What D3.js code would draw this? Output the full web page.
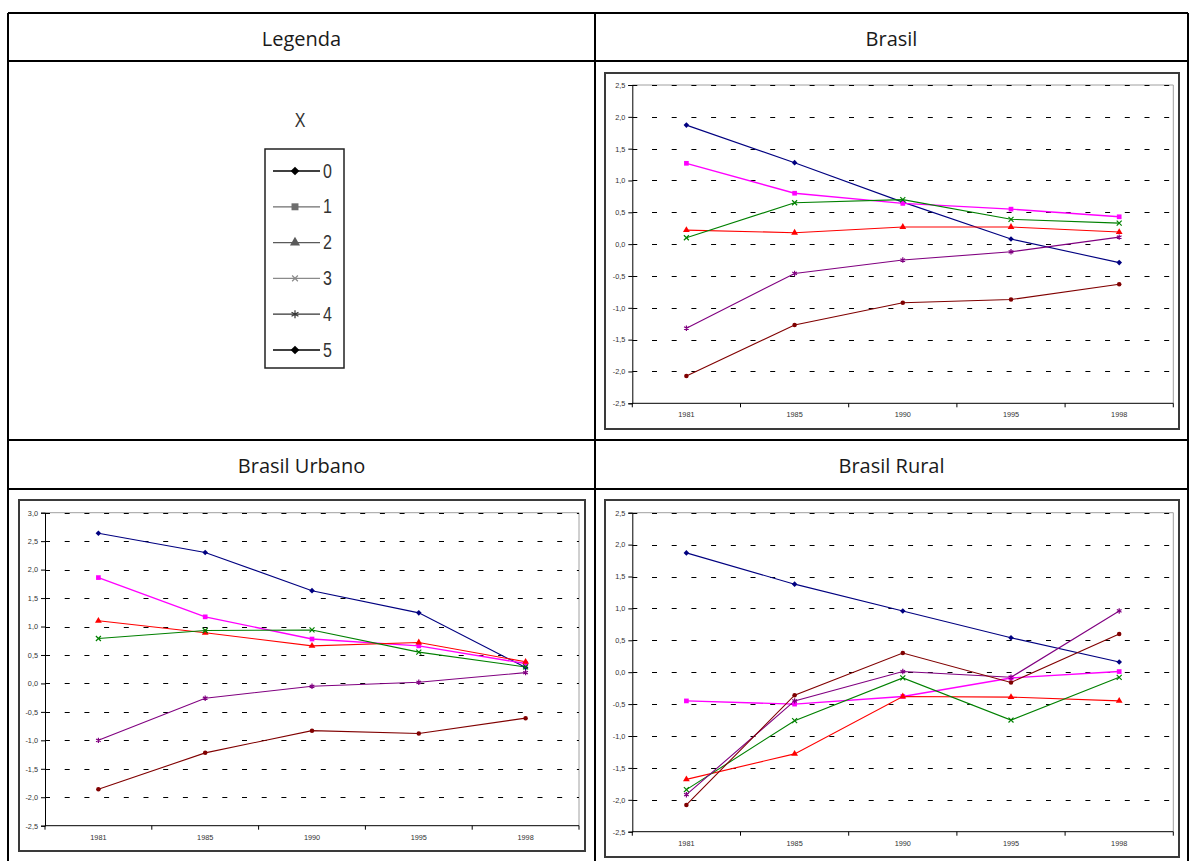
<!DOCTYPE html>
<html><head><meta charset="utf-8">
<script src="https://cdn.jsdelivr.net/npm/d3@7"></script>
<style>body{margin:0;background:#fff}svg{display:block}</style>
</head><body><svg id="c" width="1189" height="861"></svg>
<script>
// Categories and groups
const years = ["1981", "1985", "1990", "1995", "1998"];
const groups = ["0", "1", "2", "3", "4", "5"];

// Series values per panel, one row per group 0..5
const brasil = [
  [1.87, 1.28, 0.66, 0.08, -0.29],
  [1.27, 0.80, 0.64, 0.55, 0.43],
  [0.22, 0.18, 0.27, 0.27, 0.19],
  [0.10, 0.65, 0.70, 0.39, 0.33],
  [-1.32, -0.46, -0.25, -0.12, 0.11],
  [-2.07, -1.27, -0.92, -0.87, -0.63]
];
const urbano = [
  [2.64, 2.30, 1.63, 1.24, 0.28],
  [1.86, 1.17, 0.78, 0.66, 0.35],
  [1.10, 0.89, 0.66, 0.72, 0.38],
  [0.79, 0.93, 0.94, 0.55, 0.29],
  [-1.00, -0.26, -0.05, 0.02, 0.19],
  [-1.86, -1.22, -0.83, -0.88, -0.61]
];
const rural = [
  [1.87, 1.38, 0.96, 0.54, 0.16],
  [-0.45, -0.50, -0.38, -0.09, 0.01],
  [-1.68, -1.28, -0.38, -0.39, -0.45],
  [-1.84, -0.76, -0.09, -0.75, -0.08],
  [-1.92, -0.45, 0.01, -0.08, 0.96],
  [-2.08, -0.36, 0.30, -0.16, 0.60]
];

// Tick labels
const ticksStd = [-2.5, -2.0, -1.5, -1.0, -0.5, 0.0, 0.5, 1.0, 1.5, 2.0, 2.5];
const ticksUrb = [-2.5, -2.0, -1.5, -1.0, -0.5, 0.0, 0.5, 1.0, 1.5, 2.0, 2.5, 3.0];

// Headers
const headers = ["Legenda", "Brasil", "Brasil Urbano", "Brasil Rural"];
const legendTitle = "X";

// Styles per group
const lineColors = ["#000080", "#FF00FF", "#FF0000", "#008000", "#800080", "#800000"];
const legendColors = ["#000000", "#6e6e6e", "#5a5a5a", "#8a8a8a", "#333333", "#000000"];

const svg = d3.select("#c");
svg.append("rect").attr("width", 1189).attr("height", 861).attr("fill", "#fff");

const fmt = v => v.toFixed(1).replace(".", ",");

// Marker shapes
const symDiamond = d3.symbolDiamond2 || d3.symbolDiamond;
const symX = d3.symbolTimes || d3.symbolX || d3.symbolCross;
const symAst = d3.symbolAsterisk || d3.symbolCross;
const markers = [
  {type: symDiamond, size: 20, stroke: false},
  {type: d3.symbolSquare, size: 22, stroke: false},
  {type: d3.symbolTriangle, size: 20, stroke: false},
  {type: symX, size: 18, stroke: true},
  {type: symAst, size: 20, stroke: true},
  {type: d3.symbolCircle, size: 16, stroke: false}
];

function drawMarker(g, i, x, y, color, scale, typeOverride) {
  const m = markers[i];
  const p = d3.symbol().type(typeOverride || m.type).size(m.size * (scale || 1))();
  const el = g.append("path").attr("d", p).attr("transform", `translate(${x},${y})`);
  if (m.stroke) el.attr("fill", "none").attr("stroke", color).attr("stroke-width", 1.2);
  else el.attr("fill", color).attr("stroke", "none");
}

// Excel-style line chart panel
function panel(box, plot, domain, ticks, data) {
  const g = svg.append("g");
  g.append("rect")
    .attr("x", box.x0).attr("y", box.y0)
    .attr("width", box.x1 - box.x0).attr("height", box.y1 - box.y0)
    .attr("fill", "#fff").attr("stroke", "#3a3a3a").attr("stroke-width", 2);

  const x = d3.scaleBand().domain(years).range([plot.x0, plot.x1]).padding(0);
  const y = d3.scaleLinear().domain(domain).range([plot.y1, plot.y0]);
  const cx = d => x(d) + x.bandwidth() / 2;

  // plot area frame (top/right light)
  g.append("path")
    .attr("d", `M${plot.x0},${plot.y0}H${plot.x1}V${plot.y1}`)
    .attr("fill", "none").attr("stroke", "#a0a0a0").attr("stroke-width", 1);

  // dashed gridlines
  g.append("g").selectAll("line").data(ticks.filter(t => t !== domain[0]))
    .join("line")
    .attr("x1", plot.x0).attr("x2", plot.x1)
    .attr("y1", d => Math.round(y(d)) + 0.5).attr("y2", d => Math.round(y(d)) + 0.5)
    .attr("stroke", "#000").attr("stroke-width", 1)
    .attr("stroke-dasharray", "5,14.7");

  // y axis
  const ya = d3.axisLeft(y).tickValues(ticks).tickSize(4).tickFormat(fmt);
  const yg = g.append("g").attr("transform", `translate(${plot.x0},0)`).call(ya);
  yg.select(".domain").attr("stroke", "#000");
  yg.selectAll(".tick line").attr("stroke", "#000");
  yg.selectAll("text").attr("font-family", "Liberation Sans, Arial, sans-serif")
    .attr("font-size", 7.3).attr("fill", "#333").attr("x", -7);

  // x axis: ticks at category boundaries
  const xg = g.append("g").attr("transform", `translate(0,${plot.y1})`);
  xg.append("line").attr("x1", plot.x0).attr("x2", plot.x1)
    .attr("y1", 0).attr("y2", 0).attr("stroke", "#000");
  const bounds = years.map(d => x(d)).concat([plot.x1]);
  xg.selectAll("line.tk").data(bounds).join("line").attr("class", "tk")
    .attr("x1", d => d).attr("x2", d => d).attr("y1", 0).attr("y2", 4)
    .attr("stroke", "#000");
  xg.selectAll("text").data(years).join("text")
    .attr("x", d => cx(d)).attr("y", 14)
    .attr("text-anchor", "middle")
    .attr("font-family", "Liberation Sans, Arial, sans-serif")
    .attr("font-size", 7.3).attr("fill", "#333").text(d => d);

  // series
  const line = d3.line().x((d, i) => cx(years[i])).y(d => y(d));
  data.forEach((vals, i) => {
    g.append("path").attr("d", line(vals)).attr("fill", "none")
      .attr("stroke", lineColors[i]).attr("stroke-width", i === 1 ? 1.4 : 1.1);
  });
  data.forEach((vals, i) => {
    vals.forEach((v, j) => drawMarker(g, i, cx(years[j]), y(v), lineColors[i]));
  });
}

// Table frame
const T = {left: 8, right: 1188, top: 13, mid: 595, h1: 61, r2a: 440, r2b: 489, bottom: 870};
const tg = svg.append("g").attr("stroke", "#000").attr("stroke-width", 2);
[[T.left, T.top, T.right, T.top], [T.left, T.h1, T.right, T.h1],
 [T.left, T.r2a, T.right, T.r2a], [T.left, T.r2b, T.right, T.r2b],
 [T.left, T.top, T.left, T.bottom], [T.mid, T.top, T.mid, T.bottom],
 [T.right, T.top, T.right, T.bottom]].forEach(l => {
  tg.append("line").attr("x1", l[0]).attr("y1", l[1]).attr("x2", l[2]).attr("y2", l[3]);
});

// Header texts
const hx = [(T.left + T.mid) / 2, (T.mid + T.right) / 2];
[[headers[0], hx[0], 38], [headers[1], hx[1], 38], [headers[2], hx[0], 465], [headers[3], hx[1], 465]]
  .forEach(h => {
    svg.append("text").attr("x", h[1]).attr("y", h[2])
      .attr("text-anchor", "middle").attr("dominant-baseline", "central")
      .attr("font-family", "Open Sans, sans-serif").attr("font-size", 20)
      .attr("fill", "#1a1a1a").text(h[0]);
  });

// Legend (narrow type drawn by horizontal scaling)
const narrow = "Liberation Sans, Arial, sans-serif";
const lg = svg.append("g");
lg.append("text").attr("transform", "translate(300,120) scale(0.8,1)")
  .attr("text-anchor", "middle").attr("dominant-baseline", "central")
  .attr("font-family", narrow).attr("font-size", 20).attr("fill", "#333").text(legendTitle);
lg.append("rect").attr("x", 265).attr("y", 149).attr("width", 79).attr("height", 219)
  .attr("fill", "#fff").attr("stroke", "#222").attr("stroke-width", 1.5);
const ly = d3.scalePoint().domain(groups).range([171, 350]);
groups.forEach((gname, i) => {
  const yy = ly(gname);
  lg.append("line").attr("x1", 273).attr("x2", 320).attr("y1", yy).attr("y2", yy)
    .attr("stroke", legendColors[i]).attr("stroke-width", 1.3);
  const sc = i === 0 ? 2.4 : i === 5 ? 3.0 : i === 3 ? 1.3 : 2.2;
  drawMarker(lg, i, 295, yy, legendColors[i], sc, i === 5 ? symDiamond : null);
  lg.append("text").attr("transform", `translate(323,${yy}) scale(0.8,1)`)
    .attr("dominant-baseline", "central")
    .attr("font-family", narrow).attr("font-size", 20).attr("fill", "#333").text(gname);
});

// Panels
panel({x0: 605, y0: 73, x1: 1179, y1: 429}, {x0: 632.3, y0: 85, x1: 1173.3, y1: 403.3},
      [-2.5, 2.5], ticksStd, brasil);
panel({x0: 19, y0: 500, x1: 585, y1: 851}, {x0: 45, y0: 512.7, x1: 579, y1: 825.7},
      [-2.5, 3.0], ticksUrb, urbano);
panel({x0: 605, y0: 500, x1: 1179, y1: 857}, {x0: 632.3, y0: 512.7, x1: 1173.3, y1: 831.7},
      [-2.5, 2.5], ticksStd, rural);
</script></body></html>
